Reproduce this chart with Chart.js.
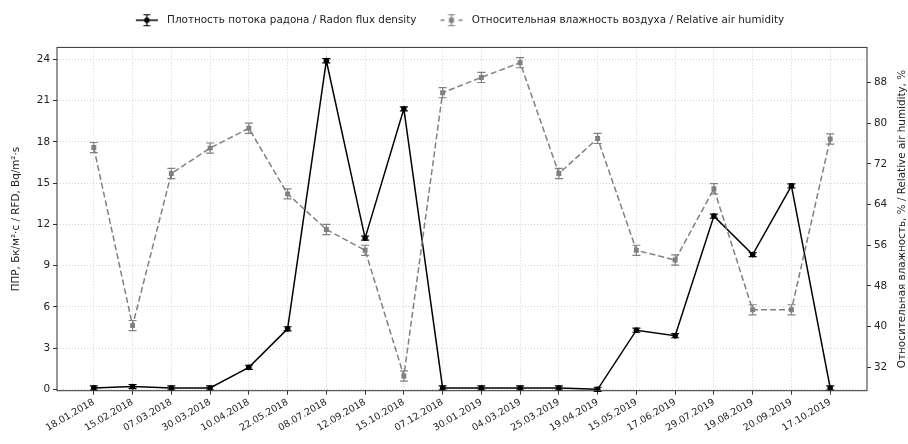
<!DOCTYPE html>
<html>
<head>
<meta charset="utf-8">
<script src="https://cdn.jsdelivr.net/npm/chart.js@4.4.1/dist/chart.umd.min.js"></script>
<style>
  html, body { margin: 0; padding: 0; background: #fff; }
  #wrap { width: 908px; height: 444px; }
</style>
</head>
<body>
<div id="wrap"><canvas id="chart" width="908" height="444"></canvas></div>
<script>
// Даты отбора проб
const dates = [
  '18.01.2018', '15.02.2018', '07.03.2018', '30.03.2018', '10.04.2018',
  '22.05.2018', '08.07.2018', '12.09.2018', '15.10.2018', '07.12.2018',
  '30.01.2019', '04.03.2019', '25.03.2019', '19.04.2019', '15.05.2019',
  '17.06.2019', '29.07.2019', '19.08.2019', '20.09.2019', '17.10.2019'
];

// ППР, Бк/м²·с
const radonFlux = [0.1, 0.2, 0.1, 0.1, 1.6, 4.4, 23.9, 11.0, 20.4, 0.1,
                   0.1, 0.1, 0.1, 0.0, 4.3, 3.9, 12.6, 9.8, 14.8, 0.1];
const radonErr = [0.15, 0.15, 0.15, 0.15, 0.15, 0.15, 0.15, 0.15, 0.15, 0.15,
                  0.15, 0.15, 0.15, 0.15, 0.15, 0.15, 0.15, 0.15, 0.15, 0.15];

// Относительная влажность, %
const humidity = [75.2, 40.2, 70.1, 75.1, 79.0, 66.1, 59.1, 55.0, 30.3, 86.0,
                  89.0, 91.9, 70.1, 77.0, 55.0, 53.1, 67.1, 43.3, 43.3, 76.9];
const humidityErr = [1, 1, 1, 1, 1, 1, 1, 1, 1, 1,
                     1, 1, 1, 1, 1, 1, 1, 1, 1, 1];

const radonTicks = [0, 3, 6, 9, 12, 15, 18, 21, 24];
const humidityTicks = [32, 40, 48, 56, 64, 72, 80, 88];

const FONT = 'DejaVu Sans';
const FS = 10.4;
const TEXT = '#222222';
const GRID = '#d2d2d2';
const AXIS = '#333333';
const GRAY = '#808080';
const RIGHT_TITLE = 'Относительная влажность, % / Relative air humidity, %';

// иконка легенды: линия + маркер + планка погрешности
function makeIcon(color, dashed, square) {
  const c = document.createElement('canvas');
  c.width = 38;
  c.height = 14;
  const g = c.getContext('2d');
  const cx = 23, cy = 7;
  g.strokeStyle = color;
  g.fillStyle = color;
  g.lineWidth = 1.5;
  g.beginPath();
  if (dashed) {
    g.moveTo(12, cy); g.lineTo(16, cy);
    g.moveTo(30, cy); g.lineTo(34, cy);
  } else {
    g.moveTo(12, cy); g.lineTo(34, cy);
  }
  g.stroke();
  g.lineWidth = 1.2;
  g.beginPath();
  g.moveTo(cx, 1.5); g.lineTo(cx, 12.5);
  g.moveTo(cx - 3.5, 1.5); g.lineTo(cx + 3.5, 1.5);
  g.moveTo(cx - 3.5, 12.5); g.lineTo(cx + 3.5, 12.5);
  g.stroke();
  if (square) {
    g.fillRect(cx - 2.5, cy - 2.5, 5, 5);
  } else {
    g.beginPath();
    g.arc(cx, cy, 2.8, 0, Math.PI * 2);
    g.fill();
  }
  return c;
}
const legendIcons = [makeIcon('#000000', false, false), makeIcon(GRAY, true, true)];

const errorBars = {
  id: 'errorBars',
  afterDatasetDraw(chart, args) {
    const ds = chart.data.datasets[args.index];
    if (!ds.errors) return;
    const yScale = chart.scales[ds.yAxisID];
    const ctx = chart.ctx;
    ctx.save();
    ctx.strokeStyle = ds.borderColor;
    ctx.lineWidth = 1.2;
    args.meta.data.forEach((pt, i) => {
      const v = ds.data[i].y;
      const e = ds.errors[i];
      const yTop = yScale.getPixelForValue(v + e);
      const yBot = yScale.getPixelForValue(v - e);
      ctx.beginPath();
      ctx.moveTo(pt.x, yTop); ctx.lineTo(pt.x, yBot);
      ctx.moveTo(pt.x - 4, yTop); ctx.lineTo(pt.x + 4, yTop);
      ctx.moveTo(pt.x - 4, yBot); ctx.lineTo(pt.x + 4, yBot);
      ctx.stroke();
    });
    ctx.restore();
  }
};

const frameAndTitle = {
  id: 'frameAndTitle',
  afterDraw(chart) {
    const { ctx, chartArea } = chart;
    ctx.save();
    ctx.strokeStyle = AXIS;
    ctx.lineWidth = 1;
    ctx.strokeRect(chartArea.left, chartArea.top,
      chartArea.right - chartArea.left, chartArea.bottom - chartArea.top);
    ctx.translate(902, (chartArea.top + chartArea.bottom) / 2);
    ctx.rotate(-Math.PI / 2);
    ctx.fillStyle = TEXT;
    ctx.font = FS + 'px "' + FONT + '"';
    ctx.textAlign = 'center';
    ctx.textBaseline = 'middle';
    ctx.fillText(RIGHT_TITLE, 0, 0);
    ctx.restore();
  }
};

const legendGap = {
  id: 'legendGap',
  beforeLayout(chart) {
    const legend = chart.legend;
    if (!legend || legend._gapPatched) return;
    const fit = legend.fit;
    legend.fit = function () {
      fit.call(this);
      this.height += 12;
    };
    legend._gapPatched = true;
  }
};

new Chart(document.getElementById('chart'), {
  type: 'line',
  data: {
    datasets: [
      {
        label: 'Плотность потока радона / Radon flux density',
        data: radonFlux.map((v, i) => ({ x: i, y: v })),
        errors: radonErr,
        yAxisID: 'y',
        borderColor: '#000000',
        backgroundColor: '#000000',
        borderWidth: 1.5,
        pointStyle: 'circle',
        pointRadius: 2.8,
        pointBorderWidth: 0,
        tension: 0,
        order: 2
      },
      {
        label: 'Относительная влажность воздуха / Relative air humidity',
        data: humidity.map((v, i) => ({ x: i, y: v })),
        errors: humidityErr,
        yAxisID: 'y2',
        borderColor: GRAY,
        backgroundColor: GRAY,
        borderWidth: 1.5,
        borderDash: [6, 3],
        pointStyle: 'rect',
        pointRadius: 3.5,
        pointBorderWidth: 0,
        tension: 0,
        order: 1
      }
    ]
  },
  options: {
    responsive: false,
    animation: false,
    layout: { padding: { top: 3, left: 0, right: 0, bottom: 0 } },
    plugins: {
      tooltip: { enabled: false },
      legend: {
        position: 'top',
        labels: {
          usePointStyle: true,
          pointStyleWidth: 38,
          padding: 12,
          color: TEXT,
          font: { family: FONT, size: FS },
          generateLabels: (chart) => {
            const items = Chart.defaults.plugins.legend.labels.generateLabels(chart);
            items.sort((a, b) => a.datasetIndex - b.datasetIndex);
            items.forEach((it) => {
              it.pointStyle = legendIcons[it.datasetIndex];
              it.rotation = 0;
            });
            return items;
          }
        }
      }
    },
    scales: {
      x: {
        type: 'linear',
        min: -0.95,
        max: 19.95,
        afterBuildTicks: (scale) => {
          scale.ticks = dates.map((_, i) => ({ value: i }));
        },
        afterFit: (scale) => { scale.height = 53.3; },
        ticks: {
          autoSkip: false,
          minRotation: 30,
          maxRotation: 30,
          padding: 2,
          color: TEXT,
          font: { family: FONT, size: 9.5 },
          callback: (v) => dates[v] ?? ''
        },
        grid: { color: GRID, tickColor: AXIS, tickLength: 4 },
        border: { display: false, dash: [1, 2] }
      },
      y: {
        position: 'left',
        min: -0.1,
        max: 24.87,
        afterBuildTicks: (scale) => {
          scale.ticks = radonTicks.map(v => ({ value: v }));
        },
        afterFit: (scale) => { scale.width = 57; },
        ticks: {
          padding: 3,
          color: TEXT,
          font: { family: FONT, size: FS }
        },
        grid: { color: GRID, tickColor: AXIS, tickLength: 4 },
        border: { display: false, dash: [1, 2] },
        title: {
          display: true,
          text: 'ППР, Бк/м²·с / RFD, Bq/m²·s',
          color: TEXT,
          font: { family: FONT, size: FS },
          padding: { top: 10, bottom: 0 }
        }
      },
      y2: {
        position: 'right',
        min: 27.4,
        max: 94.9,
        afterBuildTicks: (scale) => {
          scale.ticks = humidityTicks.map(v => ({ value: v }));
        },
        afterFit: (scale) => { scale.width = 41; },
        ticks: {
          padding: 3,
          color: TEXT,
          font: { family: FONT, size: FS }
        },
        grid: { drawOnChartArea: false, tickColor: AXIS, tickLength: 4 },
        border: { display: false }
      }
    }
  },
  plugins: [errorBars, frameAndTitle, legendGap]
});
</script>
</body>
</html>
